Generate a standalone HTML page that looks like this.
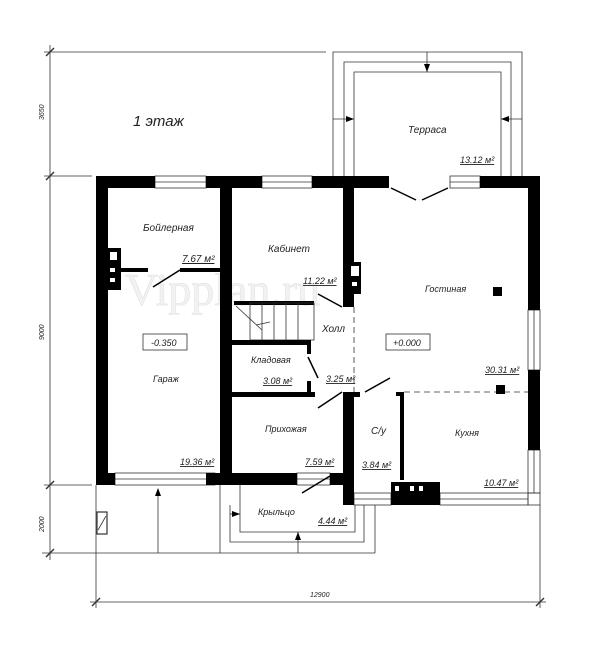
<!DOCTYPE html>
<html><head><meta charset="utf-8"><style>
html,body{margin:0;padding:0;background:#fff}
svg text{font-family:"Liberation Sans",sans-serif;font-style:italic;fill:#222}
</style></head><body>
<svg width="600" height="643" viewBox="0 0 600 643" xmlns="http://www.w3.org/2000/svg">
<!-- watermark -->
<text x="125" y="305" font-size="46" style="font-style:normal;font-family:'Liberation Serif',serif;fill:#f2f2f2;stroke:#e2e2e2;stroke-width:0.6">Vipplan.ru</text>
<g stroke="#333" stroke-width="0.8" fill="none">
<line x1="50" y1="45" x2="50" y2="560"/>
<line x1="44" y1="52" x2="326" y2="52"/>
<line x1="44" y1="176" x2="92" y2="176"/>
<line x1="44" y1="485" x2="92" y2="485"/>
<line x1="42" y1="553" x2="375" y2="553"/>
<line x1="90" y1="602" x2="546" y2="602"/>
<line x1="96" y1="485" x2="96" y2="608"/>
<line x1="540" y1="505" x2="540" y2="608"/>
<line x1="46" y1="56" x2="54" y2="48" stroke-width="1.4"/>
<line x1="46" y1="180" x2="54" y2="172" stroke-width="1.4"/>
<line x1="46" y1="489" x2="54" y2="481" stroke-width="1.4"/>
<line x1="46" y1="557" x2="54" y2="549" stroke-width="1.4"/>
<line x1="92" y1="606" x2="100" y2="598" stroke-width="1.4"/>
<line x1="536" y1="606" x2="544" y2="598" stroke-width="1.4"/>
<polyline points="333,176 333,52 522,52 522,176"/>
<polyline points="344,176 344,62 511,62 511,176"/>
<polyline points="354,176 354,72 501,72 501,176"/>
<line x1="427" y1="52" x2="427" y2="72"/>
<line x1="333" y1="119" x2="354" y2="119"/>
<line x1="501" y1="119" x2="522" y2="119"/>
<polyline points="220,485 220,553"/>
<polyline points="230,505 230,542 364,542 364,505"/>
<polyline points="240,485 240,532 355,532 355,505"/>
<polyline points="375,505 375,553"/>
<line x1="158" y1="490" x2="158" y2="553"/>
<line x1="298" y1="532" x2="298" y2="553"/>
<line x1="230" y1="514" x2="240" y2="514"/>
<rect x="155" y="176" width="51" height="12"/><line x1="155" y1="182" x2="206" y2="182"/>
<rect x="262" y="176" width="50" height="12"/><line x1="262" y1="182" x2="312" y2="182"/>
<rect x="450" y="176" width="30" height="12"/><line x1="450" y1="182" x2="480" y2="182"/>
<rect x="528" y="310" width="12" height="60"/><line x1="534" y1="310" x2="534" y2="370"/>
<rect x="528" y="450" width="12" height="43"/><line x1="534" y1="450" x2="534" y2="493"/>
<rect x="115" y="473" width="100" height="12"/><line x1="115" y1="479" x2="215" y2="479"/>
<rect x="297" y="473" width="33" height="12"/><line x1="297" y1="479" x2="330" y2="479"/>
<rect x="354" y="493" width="37" height="12"/><line x1="354" y1="499" x2="391" y2="499"/>
<rect x="440" y="493" width="88" height="12"/><line x1="440" y1="499" x2="528" y2="499"/>
<rect x="528" y="493" width="12" height="12"/>
<rect x="97" y="512" width="10" height="22" stroke-width="1.2"/>
<line x1="98" y1="530" x2="106" y2="516"/>
<line x1="234" y1="303" x2="314" y2="303" stroke="#000" stroke-width="4"/>
<rect x="250" y="303" width="64" height="37"/>
<line x1="262" y1="303" x2="262" y2="340"/><line x1="274" y1="303" x2="274" y2="340"/>
<line x1="286" y1="303" x2="286" y2="340"/><line x1="298" y1="303" x2="298" y2="340"/>
<line x1="236" y1="306" x2="262" y2="330"/>
<line x1="256" y1="325" x2="270" y2="322"/>
<rect x="143" y="334" width="44" height="16"/>
<rect x="386" y="334" width="44" height="16"/>
<line x1="354" y1="307" x2="354" y2="392" stroke-dasharray="6,4"/>
<line x1="404" y1="392" x2="528" y2="392" stroke-dasharray="6,4"/>
</g>
<g fill="#000">
<polygon points="427,72 424,64 430,64"/>
<polygon points="354,119 346,116 346,122"/>
<polygon points="501,119 509,116 509,122"/>
<polygon points="158,488 155,496 161,496"/>
<polygon points="298,532 295,540 301,540"/>
<polygon points="240,514 232,511 232,517"/>
</g>
<g fill="#000">
<rect x="96" y="176" width="59" height="12"/>
<rect x="206" y="176" width="56" height="12"/>
<rect x="312" y="176" width="77" height="12"/>
<rect x="480" y="176" width="60" height="12"/>
<rect x="96" y="176" width="12" height="309"/>
<rect x="528" y="176" width="12" height="134"/>
<rect x="528" y="370" width="12" height="80"/>
<rect x="96" y="473" width="19" height="12"/>
<rect x="206" y="473" width="91" height="12"/>
<rect x="330" y="473" width="13" height="12"/>
<rect x="220" y="176" width="12" height="309"/>
<rect x="343" y="176" width="11" height="131"/>
<rect x="343" y="392" width="11" height="113"/>
<rect x="354" y="392" width="6" height="5"/>
<rect x="400" y="392" width="4" height="88"/>
<rect x="396" y="392" width="8" height="4"/>
<rect x="343" y="493" width="11" height="12"/>
<rect x="391" y="482" width="49" height="23"/>
<rect x="108" y="268" width="40" height="4"/>
<rect x="180" y="268" width="40" height="4"/>
<rect x="232" y="340" width="78" height="5"/>
<rect x="307" y="340" width="4" height="14"/>
<rect x="232" y="392" width="83" height="5"/>
<rect x="307" y="381" width="4" height="14"/>
<rect x="107" y="248" width="14" height="42"/>
<rect x="349" y="262" width="12" height="32"/>
<rect x="493" y="287" width="9" height="9"/>
<rect x="496" y="385" width="9" height="9"/>
</g>
<g fill="#fff"><rect x="110" y="252" width="7" height="8"/><rect x="110" y="268" width="5" height="4"/><rect x="110" y="278" width="5" height="4"/>
<rect x="351" y="266" width="8" height="10"/><rect x="352" y="282" width="5" height="4"/>
<rect x="395" y="486" width="4" height="5"/><rect x="410" y="486" width="4" height="5"/><rect x="419" y="486" width="4" height="5"/></g>
<g stroke="#000" stroke-width="1.5">
<line x1="153" y1="287" x2="180" y2="270"/>
<line x1="318" y1="294" x2="342" y2="307"/>
<line x1="308" y1="357" x2="318" y2="378"/>
<line x1="318" y1="408" x2="342" y2="392"/>
<line x1="365" y1="392" x2="390" y2="378"/>
<line x1="302" y1="493" x2="330" y2="476"/>
<line x1="391" y1="188" x2="416" y2="200"/>
<line x1="448" y1="188" x2="422" y2="200"/>
</g>
<g font-size="10">
<text x="133" y="126" font-size="15">1 этаж</text>
<text x="408" y="133">Терраса</text>
<text x="460" y="163" font-size="9" text-decoration="underline">13.12 м²</text>
<text x="143" y="231">Бойлерная</text>
<text x="182" y="262" text-decoration="underline">7.67 м²</text>
<text x="268" y="252">Кабинет</text>
<text x="303" y="284" font-size="9" text-decoration="underline">11.22 м²</text>
<text x="425" y="292" font-size="9">Гостиная</text>
<text x="322" y="332">Холл</text>
<text x="151" y="346" font-size="9">-0.350</text>
<text x="393" y="346" font-size="9">+0.000</text>
<text x="251" y="363" font-size="9">Кладовая</text>
<text x="263" y="384" font-size="9" text-decoration="underline">3.08 м²</text>
<text x="326" y="382" font-size="9" text-decoration="underline">3.25 м²</text>
<text x="485" y="373" font-size="9" text-decoration="underline">30.31 м²</text>
<text x="153" y="382" font-size="9">Гараж</text>
<text x="265" y="432" font-size="9">Прихожая</text>
<text x="371" y="434">С/у</text>
<text x="455" y="436" font-size="9">Кухня</text>
<text x="180" y="465" font-size="9" text-decoration="underline">19.36 м²</text>
<text x="305" y="465" font-size="9" text-decoration="underline">7.59 м²</text>
<text x="362" y="468" font-size="9" text-decoration="underline">3.84 м²</text>
<text x="484" y="486" font-size="9" text-decoration="underline">10.47 м²</text>
<text x="258" y="515" font-size="9">Крыльцо</text>
<text x="318" y="524" font-size="9" text-decoration="underline">4.44 м²</text>
</g>
<g fill="#444" style="font-style:normal">
<text x="310" y="597" font-size="7">12900</text>
<text transform="translate(44,120) rotate(-90)" font-size="7">3650</text>
<text transform="translate(44,340) rotate(-90)" font-size="7">9000</text>
<text transform="translate(44,532) rotate(-90)" font-size="7">2000</text>
</g>
</svg>
</body></html>
